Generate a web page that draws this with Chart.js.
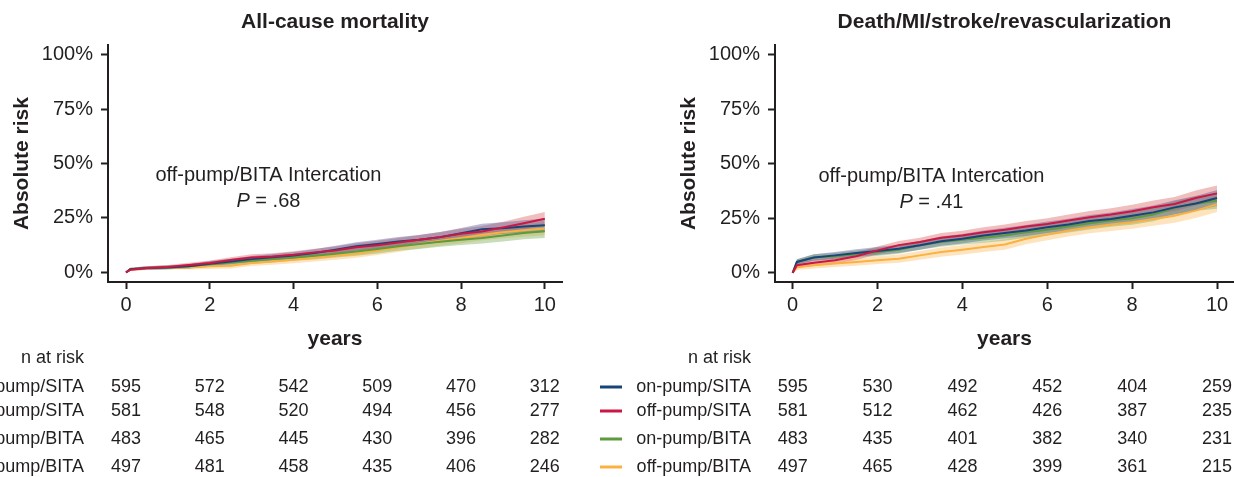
<!DOCTYPE html>
<html>
<head>
<meta charset="utf-8">
<script src="https://cdn.jsdelivr.net/npm/chart.js@4.4.1/dist/chart.umd.min.js"></script>
<style>
  html, body { margin: 0; padding: 0; background: #fff; }
  body { width: 1234px; height: 477px; position: relative; overflow: hidden; }
  canvas { position: absolute; top: 0; }
  #mort { left: 0; }
  #mace { left: 600px; }
</style>
</head>
<body>
<canvas id="mort" width="600" height="477"></canvas>
<canvas id="mace" width="634" height="477"></canvas>
<script>
// follow-up time (years) at which the curves were read
const years = [0, 0.1, 0.5, 1, 1.5, 2, 2.5, 3, 3.5, 4, 4.5, 5, 5.5, 6, 6.5, 7, 7.5, 8, 8.5, 9, 9.5, 10];
const groups = ['on-pump/SITA', 'off-pump/SITA', 'on-pump/BITA', 'off-pump/BITA'];
const tickYears = [0, 2, 4, 6, 8, 10];
const riskTicks = [0, 25, 50, 75, 100];

// All-cause mortality, absolute risk in %
const mortOnSita  = [0, 1.5, 2.0, 2.3, 2.8, 4.0, 5.0, 6.1, 7.0, 7.8, 8.9, 10.4, 12.0, 13.0, 14.2, 15.0, 16.2, 18.0, 19.8, 20.3, 21.1, 21.6];
const mortOffSita = [0, 1.2, 2.0, 2.5, 3.4, 4.3, 5.7, 6.9, 7.3, 8.1, 9.2, 10.1, 11.5, 12.5, 13.7, 15.0, 16.2, 17.7, 18.8, 20.6, 22.6, 24.6];
const mortOnBita  = [0, 1.5, 2.0, 2.3, 2.8, 3.7, 4.5, 5.3, 6.1, 6.9, 7.6, 8.6, 9.6, 10.7, 12.0, 13.0, 14.1, 15.0, 15.8, 16.9, 18.1, 18.9];
const mortOffBita = [0, 1.2, 2.0, 2.2, 2.3, 2.8, 3.1, 4.3, 5.0, 5.8, 6.7, 7.6, 8.6, 10.0, 11.5, 13.2, 14.5, 15.8, 17.3, 18.4, 19.3, 20.2];
// half width of the shaded confidence band
const mortCi = [0, 0.6, 0.8, 0.9, 1.0, 1.2, 1.3, 1.4, 1.5, 1.6, 1.7, 1.8, 1.9, 2.0, 2.1, 2.2, 2.3, 2.4, 2.5, 2.7, 2.9, 3.1];

// Death/MI/stroke/revascularization, absolute risk in %
const maceOnSita  = [0, 5.0, 7.0, 8.0, 9.1, 10.0, 11.0, 12.6, 14.5, 15.6, 17.1, 18.2, 19.4, 20.9, 22.1, 23.7, 24.7, 26.2, 27.7, 30.0, 31.8, 34.3];
const maceOffSita = [0, 3.5, 4.6, 5.8, 7.6, 10.3, 12.7, 14.1, 16.1, 17.1, 18.6, 19.7, 21.2, 22.4, 24.0, 25.5, 26.7, 28.2, 30.0, 31.5, 34.3, 36.4];
const maceOnBita  = [0, 5.0, 7.0, 7.6, 8.5, 9.5, 10.6, 12.6, 14.1, 15.2, 16.1, 17.1, 18.6, 19.7, 21.2, 22.7, 24.0, 25.0, 26.7, 29.7, 31.8, 33.0];
const maceOffBita = [0, 2.5, 3.5, 4.3, 5.0, 5.8, 6.5, 8.0, 9.5, 10.6, 11.8, 13.0, 15.6, 17.5, 19.4, 20.9, 22.1, 23.2, 24.7, 26.2, 28.5, 31.5];
const maceCi = [0, 1.2, 1.5, 1.6, 1.7, 1.8, 1.9, 2.0, 2.1, 2.2, 2.3, 2.4, 2.5, 2.6, 2.7, 2.8, 2.9, 3.0, 3.1, 3.2, 3.4, 3.6];

// n at risk at 0, 2, 4, 6, 8, 10 years
const mortAtRisk = [
    [595, 572, 542, 509, 470, 312],
    [581, 548, 520, 494, 456, 277],
    [483, 465, 445, 430, 396, 282],
    [497, 481, 458, 435, 406, 246]
];
const maceAtRisk = [
    [595, 530, 492, 452, 404, 259],
    [581, 512, 462, 426, 387, 235],
    [483, 435, 401, 382, 340, 231],
    [497, 465, 428, 399, 361, 215]
];

const ink = '#231f20';
const family = '"Liberation Sans", Arial, Helvetica, sans-serif';
const lineColors = ['#17457a', '#cc1744', '#5d9b3c', '#fbb040'];
const bandColors = ['rgba(80, 85, 150, 0.4)', 'rgba(225, 110, 110, 0.45)', 'rgba(115, 170, 80, 0.4)', 'rgba(253, 195, 110, 0.45)'];
const lineOrder = [2, 1, 3, 4];   // red on top, orange at the back

const rowY = [387, 411, 439, 467];

const riskTable = {
    id: 'riskTable',
    afterDraw(chart, args, opts) {
        const { ctx, chartArea, scales: { x, y } } = chart;
        ctx.save();
        ctx.fillStyle = ink;
        ctx.textBaseline = 'middle';

        // n at risk table
        ctx.font = '18px ' + family;
        ctx.textAlign = 'right';
        ctx.fillText('n at risk', chartArea.left - 24, 358);
        opts.rows.forEach((row, i) => {
            const yy = rowY[i];
            ctx.textAlign = 'right';
            ctx.fillText(groups[i], chartArea.left - 24, yy);
            ctx.strokeStyle = lineColors[i];
            ctx.lineWidth = 3;
            ctx.beginPath();
            ctx.moveTo(chartArea.left - 175, yy);
            ctx.lineTo(chartArea.left - 153, yy);
            ctx.stroke();
            ctx.textAlign = 'center';
            row.forEach((n, j) => ctx.fillText(String(n), x.getPixelForValue(tickYears[j]), yy));
        });

        // interaction note
        const note = opts.note;
        ctx.font = '20px ' + family;
        ctx.textAlign = 'center';
        ctx.fillText('off-pump/BITA Intercation', x.getPixelForValue(note.x), y.getPixelForValue(note.y1));
        const rest = ' = ' + note.p;
        const wRest = ctx.measureText(rest).width;
        ctx.font = 'italic 20px ' + family;
        const wP = ctx.measureText('P').width;
        const cx = x.getPixelForValue(note.x);
        const py = y.getPixelForValue(note.y2);
        const startX = cx - (wP + wRest) / 2;
        ctx.textAlign = 'left';
        ctx.fillText('P', startX, py);
        ctx.font = '20px ' + family;
        ctx.fillText(rest, startX + wP, py);
        ctx.restore();
    }
};

function buildDatasets(series, ci) {
    const sets = [];
    series.forEach((vals, g) => {
        const hi = vals.map((v, i) => ({ x: years[i], y: v + ci[i] }));
        const lo = vals.map((v, i) => ({ x: years[i], y: Math.max(0, v - ci[i]) }));
        sets.push({ data: hi, fill: '+1', backgroundColor: bandColors[g], borderWidth: 0, pointRadius: 0, order: 10 });
        sets.push({ data: lo, fill: false, borderWidth: 0, pointRadius: 0, order: 10 });
    });
    series.forEach((vals, g) => {
        sets.push({
            label: groups[g],
            data: vals.map((v, i) => ({ x: years[i], y: v })),
            borderColor: lineColors[g],
            borderWidth: 2,
            pointRadius: 0,
            fill: false,
            order: lineOrder[g]
        });
    });
    return sets;
}

function makeChart(id, title, series, ci, rows, note, pad, xRange, yRange) {
    return new Chart(document.getElementById(id), {
        type: 'line',
        data: { datasets: buildDatasets(series, ci) },
        options: {
            responsive: false,
            animation: false,
            events: [],
            devicePixelRatio: 1,
            layout: { padding: pad },
            plugins: {
                legend: { display: false },
                tooltip: { enabled: false },
                title: {
                    display: true,
                    text: title,
                    fullSize: false,
                    color: ink,
                    font: { family: family, size: 21, weight: 'bold' },
                    padding: { top: 10, bottom: 10 }
                },
                riskTable: { rows: rows, note: note }
            },
            scales: {
                x: {
                    type: 'linear',
                    min: xRange[0],
                    max: xRange[1],
                    afterBuildTicks: s => { s.ticks = tickYears.map(v => ({ value: v })); },
                    afterFit: s => { s.height = 70; },
                    grid: { display: true, drawOnChartArea: false, drawTicks: true, tickLength: 7, tickWidth: 2, tickColor: ink },
                    border: { display: true, color: ink, width: 2 },
                    ticks: { color: ink, font: { family: family, size: 20 }, padding: 4, maxRotation: 0, autoSkip: false },
                    title: { display: true, text: 'years', color: ink, font: { family: family, size: 21, weight: 'bold' }, padding: { top: 0, bottom: 0 } }
                },
                y: {
                    min: yRange[0],
                    max: yRange[1],
                    afterBuildTicks: s => { s.ticks = riskTicks.map(v => ({ value: v })); },
                    afterFit: s => { s.width = 98; },
                    grid: { display: true, drawOnChartArea: false, drawTicks: true, tickLength: 7, tickWidth: 2, tickColor: ink },
                    border: { display: true, color: ink, width: 2 },
                    ticks: { color: ink, font: { family: family, size: 20 }, padding: 8, callback: v => v + '%' },
                    title: { display: true, text: 'Absolute risk', color: ink, font: { family: family, size: 21, weight: 'bold' }, padding: { top: 0, bottom: 0 } }
                }
            }
        },
        plugins: [riskTable]
    });
}

makeChart('mort', 'All-cause mortality',
    [mortOnSita, mortOffSita, mortOnBita, mortOffBita], mortCi, mortAtRisk,
    { x: 3.4, y1: 44.3, y2: 32.5, p: '.68' },
    { left: 10, right: 38, top: 0, bottom: 125 },
    [-0.43, 10.41], [-4.4, 104.3]);

makeChart('mace', 'Death/MI/stroke/revascularization',
    [maceOnSita, maceOffSita, maceOnBita, maceOffBita], maceCi, maceAtRisk,
    { x: 3.27, y1: 44, y2: 32.1, p: '.41' },
    { left: 77, right: 0, top: 0, bottom: 125 },
    [-0.416, 10.4], [-4.2, 104.3]);
</script>
</body>
</html>
